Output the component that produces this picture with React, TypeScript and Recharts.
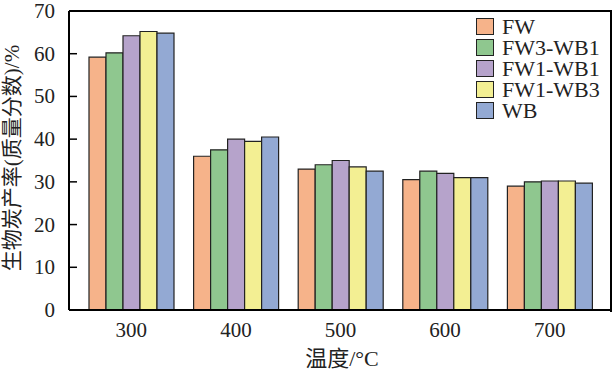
import { Bar, BarChart, XAxis, YAxis } from "recharts";

const temps = ["300", "400", "500", "600", "700"];
const fw = [59.2, 36, 33, 30.5, 29];
const fw3wb1 = [60.2, 37.5, 34, 32.5, 30];
const fw1wb1 = [64.2, 40, 35, 32, 30.2];
const fw1wb3 = [65.2, 39.5, 33.5, 31, 30.2];
const wb = [64.8, 40.5, 32.5, 31, 29.7];
const yTicks = [0, 10, 20, 30, 40, 50, 60, 70];

const series = [
  { key: "FW", color: "#F6B38A", values: fw },
  { key: "FW3-WB1", color: "#8FC78F", values: fw3wb1 },
  { key: "FW1-WB1", color: "#B6A3CB", values: fw1wb1 },
  { key: "FW1-WB3", color: "#F3EF93", values: fw1wb3 },
  { key: "WB", color: "#93A9D3", values: wb },
];

const data = temps.map((t, i) => {
  const row: Record<string, string | number> = { temp: t };
  series.forEach((s) => (row[s.key] = s.values[i]));
  return row;
});

const font = "'Liberation Serif', 'Noto Sans CJK SC', serif";

function YTick({ x, y, payload }: any) {
  return (
    <g>
      <line x1={x} x2={x + 8} y1={y} y2={y} stroke="#000" strokeWidth={1.5} />
      <text x={x - 14} y={y} dy={7} textAnchor="end" fontSize={21} fontFamily={font} fill="#222">
        {payload.value}
      </text>
    </g>
  );
}

function LegendBox() {
  return (
    <div style={{ position: "absolute", left: 476, top: 16, fontFamily: font, fontSize: 22, lineHeight: "21px", color: "#222" }}>
      {series.map((s) => (
        <div key={s.key} style={{ display: "flex", alignItems: "center", height: 21 }}>
          <span style={{ width: 18, height: 17, background: s.color, border: "1.5px solid #222", marginRight: 8, boxSizing: "border-box", display: "inline-block" }} />
          <span style={{ display: "inline-block", height: 21, lineHeight: "21px", overflow: "visible" }}>{s.key}</span>
        </div>
      ))}
    </div>
  );
}

export default function App() {
  return (
    <div style={{ position: "absolute", left: 0, top: 0, width: 613, height: 370, background: "#fff" }}>
      <BarChart width={613} height={370} data={data} margin={{ top: 11, right: 2, left: 0, bottom: 0 }} barGap={0} barCategoryGap={10}>
        <XAxis
          dataKey="temp"
          height={60}
          padding={{ left: 10, right: 9 }}
          tickLine={false}
          axisLine={{ stroke: "#000", strokeWidth: 2 }}
          tick={{ fontSize: 21, fontFamily: font, fill: "#222" }}
          tickMargin={6}
          label={{ value: "温度/°C", position: "insideBottom", offset: 4, dx: 2, fontSize: 22, fontFamily: font, fill: "#222" }}
        />
        <YAxis
          width={69}
          domain={[0, 70]}
          ticks={yTicks}
          interval={0}
          tickSize={0}
          tickMargin={0}
          tickLine={false}
          axisLine={{ stroke: "#000", strokeWidth: 2 }}
          tick={<YTick />}
          label={{
            content: () => (
              <text x={12} y={158} transform="rotate(-90 12 158)" textAnchor="middle" dy={7} fontSize={21} fontFamily={font} fill="#222">
                生物炭产率(质量分数)/%
              </text>
            ),
          }}
        />
        {series.map((s) => (
          <Bar key={s.key} dataKey={s.key} fill={s.color} stroke="#222" strokeWidth={1.2} isAnimationActive={false} />
        ))}
      </BarChart>
      {/* top and right frame of the plot area */}
      <div style={{ position: "absolute", left: 69, top: 10, width: 541, height: 300, borderTop: "2px solid #000", borderRight: "2px solid #000", pointerEvents: "none" }} />
      <LegendBox />
    </div>
  );
}
